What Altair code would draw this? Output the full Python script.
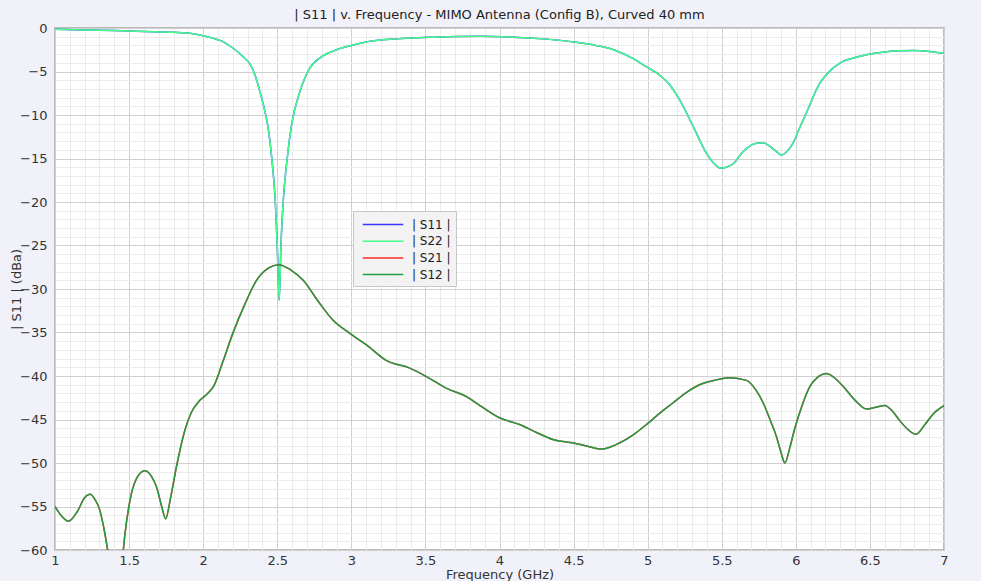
import altair as alt
import pandas as pd

# |S11| / |S22| (dB) vs frequency (GHz)
f_s11 = [1.0, 1.2, 1.4, 1.6, 1.8, 1.91, 2.0, 2.1, 2.14, 2.2, 2.27, 2.32, 2.35, 2.383,
         2.417, 2.435, 2.46, 2.487, 2.5, 2.513, 2.525, 2.54, 2.567, 2.597, 2.653, 2.72,
         2.8, 2.9, 3.0, 3.1, 3.3, 3.55, 3.87, 4.1, 4.3, 4.5, 4.65, 4.77, 4.9, 4.99, 5.08,
         5.15, 5.217, 5.307, 5.397, 5.45, 5.49, 5.53, 5.577, 5.645, 5.735, 5.78, 5.825,
         5.87, 5.903, 5.94, 5.98, 6.02, 6.07, 6.16, 6.22, 6.3, 6.4, 6.5, 6.6, 6.7, 6.8,
         6.9, 7.0]
s11_db = [-0.15, -0.22, -0.3, -0.4, -0.5, -0.61, -0.88, -1.35, -1.62, -2.3, -3.3, -4.25,
          -5.4, -7.3, -9.6, -11.1, -14.5, -20.0, -25.0, -31.3, -25.0, -20.0, -15.0, -11.1,
          -7.3, -4.6, -3.3, -2.5, -2.0, -1.6, -1.25, -1.05, -0.95, -1.05, -1.25, -1.6,
          -2.0, -2.5, -3.5, -4.45, -5.4, -6.55, -8.3, -11.3, -14.4, -15.6, -16.1, -16.0,
          -15.6, -14.2, -13.25, -13.2, -13.6, -14.2, -14.6, -14.2, -13.25, -11.7, -9.8,
          -6.4, -5.1, -4.0, -3.4, -3.0, -2.75, -2.62, -2.6, -2.7, -2.9]
s22_db = list(s11_db)

# |S21| / |S12| (dB) vs frequency (GHz)
f_s12 = [1.0, 1.05, 1.09, 1.15, 1.2, 1.236, 1.27, 1.3, 1.33, 1.36, 1.39, 1.42, 1.445,
         1.47, 1.506, 1.55, 1.607, 1.65, 1.686, 1.72, 1.747, 1.78, 1.82, 1.877, 1.92,
         1.978, 2.03, 2.07, 2.13, 2.2, 2.28, 2.36, 2.44, 2.51, 2.59, 2.675, 2.78, 2.877,
         2.99, 3.1, 3.235, 3.395, 3.51, 3.64, 3.78, 3.868, 4.0, 4.14, 4.25, 4.36, 4.5,
         4.6, 4.69, 4.81, 4.9, 4.99, 5.08, 5.17, 5.26, 5.35, 5.45, 5.555, 5.667, 5.73,
         5.78, 5.83, 5.87, 5.9, 5.926, 5.96, 5.99, 6.04, 6.095, 6.15, 6.207, 6.26, 6.32,
         6.4, 6.477, 6.54, 6.6, 6.65, 6.7, 6.76, 6.81, 6.87, 6.93, 7.0]
s12_db = [-55.0, -56.2, -56.7, -55.6, -54.0, -53.6, -54.2, -55.3, -57.5, -60.5, -64.0,
          -66.0, -63.0, -58.5, -54.3, -51.8, -50.9, -51.5, -52.8, -55.0, -56.4, -54.0,
          -50.4, -46.2, -44.2, -42.8, -42.0, -41.2, -38.5, -35.1, -31.8, -29.0, -27.6,
          -27.2, -27.8, -29.0, -31.5, -33.6, -35.1, -36.4, -38.2, -39.1, -40.1, -41.4,
          -42.4, -43.4, -44.8, -45.6, -46.5, -47.3, -47.7, -48.1, -48.4, -47.7, -46.8,
          -45.6, -44.3, -43.1, -41.9, -41.0, -40.5, -40.2, -40.5, -41.6, -43.1, -45.2,
          -47.0, -48.8, -50.0, -48.2, -46.2, -43.5, -41.2, -40.1, -39.7, -40.2, -41.2,
          -42.8, -43.8, -43.6, -43.4, -44.0, -45.1, -46.2, -46.7, -45.6, -44.3, -43.4]
s21_db = list(s12_db)

series_names = ["| S11 |", "| S22 |", "| S21 |", "| S12 |"]
series_colors = ["#3535ff", "#44ff88", "#ff2a2a", "#1f9e45"]

x_ticks = [round(1 + 0.1 * i, 1) for i in range(61)]
y_ticks = [float(-60 + i) for i in range(61)]

rows = []
for name, fs, vals in [("| S11 |", f_s11, s11_db), ("| S22 |", f_s11, s22_db),
                       ("| S21 |", f_s12, s21_db), ("| S12 |", f_s12, s12_db)]:
    for i, (f, v) in enumerate(zip(fs, vals)):
        rows.append({"f": f, "db": v, "series": name, "i": i})
df = pd.DataFrame(rows)

font = "DejaVu Sans"

x_axis = alt.Axis(
    values=x_ticks, title="Frequency (GHz)", format=".1~f",
    labelExpr="abs(datum.value*2 - round(datum.value*2)) < 0.001 ? datum.label : ''",
    gridColor={"condition": {"test": "abs(datum.value*2 - round(datum.value*2)) < 0.001",
                             "value": "#d0d0d0"}, "value": "#ececec"},
    ticks=False, domain=False, labelFont=font, labelFontSize=13, labelColor="#333333",
    labelPadding=4, titleFont=font, titleFontSize=13, titleFontWeight="normal",
    titleColor="#333333", titlePadding=1, labelFlush=False, labelOverlap=False,
)
y_axis = alt.Axis(
    values=y_ticks, title="| S11 | (dBa)", format="d",
    labelExpr="datum.value % 5 == 0 ? datum.label : ''",
    gridColor={"condition": {"test": "datum.value % 5 == 0", "value": "#d0d0d0"},
               "value": "#ececec"},
    ticks=False, domain=False, labelFont=font, labelFontSize=13, labelColor="#333333",
    labelPadding=8, titleFont=font, titleFontSize=13, titleFontWeight="normal",
    titleColor="#333333", titlePadding=-4, labelFlush=False, labelOverlap=False,
)

chart = alt.Chart(df).mark_line(strokeWidth=1.5, clip=True, interpolate="monotone").encode(
    x=alt.X("f:Q", scale=alt.Scale(domain=[1, 7], nice=False, zero=False), axis=x_axis),
    y=alt.Y("db:Q", scale=alt.Scale(domain=[-60, 0], nice=False, zero=False), axis=y_axis),
    color=alt.Color("series:N", scale=alt.Scale(domain=series_names, range=series_colors),
                    sort=series_names,
                    legend=alt.Legend(
                        title=None, orient="none", legendX=298, legendY=183,
                        symbolType="M-0.5,0H4.9", symbolSize=225, symbolStrokeWidth=1.5,
                        labelFont=font, labelFontSize=12, labelColor="#222222",
                        fillColor="#f3f3f3", strokeColor="#c8c8c8", padding=5,
                        rowPadding=1.7, labelOffset=37)),
    order=alt.Order("i:Q"),
    detail="series:N",
).properties(
    width=889, height=522,
    title=alt.TitleParams("| S11 | v. Frequency - MIMO Antenna (Config B), Curved 40 mm",
                          font=font, fontSize=13, fontWeight="normal", color="#222222",
                          offset=0, anchor="middle"),
    autosize=alt.AutoSizeParams(type="none"),
    padding={"left": 55, "top": 28, "right": 37, "bottom": 31},
    background="#f1f1f9",
).configure_view(
    fill="white", stroke="#a8a8a8", strokeWidth=1.5,
)

chart.save("out.html", embed_options={"renderer": "svg", "actions": False})
